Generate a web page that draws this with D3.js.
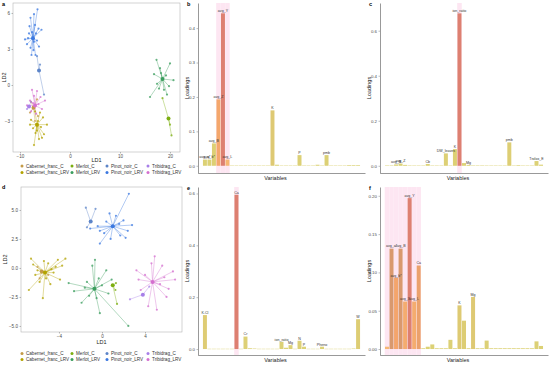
<!DOCTYPE html>
<html>
<head>
<meta charset="utf-8">
<script src="https://cdn.jsdelivr.net/npm/d3@7"></script>
<style>
  body { margin: 0; background: #fff; }
  svg { font-family: "Liberation Sans", Arial, sans-serif; display: block; }
</style>
</head>
<body>
<svg id="fig" width="550" height="365"></svg>
<script>
(function () {
    "use strict";

    // ---- data ----
    var groups = ["Cabernet_franc_C", "Cabernet_franc_LRV", "Merlot_C", "Merlot_LRV",
        "Pinot_noir_C", "Pinot_noir_LRV", "Tribidrag_C", "Tribidrag_LRV"];
    var groupColors = ["#c49a46", "#b3a300", "#7cae10", "#3a9d5d",
        "#5c84c8", "#3b78e0", "#a77fe8", "#d46fcf"];

    // panel a: [group, LD1, LD2]
    var aCentroids = [
        [0, -7.3, -1.9], [1, -6.6, -3.3], [2, 19.7, -2.8], [3, 18.5, 0.5],
        [4, -6.2, 1.2], [5, -7.4, 3.9], [6, -8.2, -1.8], [7, -7.0, -1.7]
    ];
    var aPoints = [
        [0, -7.8, -1.4], [0, -6.6, -1.2], [0, -6.4, -2.6], [0, -7.0, -3.0], [0, -8.0, -2.3],
        [1, -7.0, -2.2], [1, -6.0, -2.3], [1, -5.4, -2.7], [1, -7.8, -2.9], [1, -6.4, -3.0],
        [1, -4.6, -3.3], [1, -7.4, -3.6], [1, -5.8, -3.5], [1, -8.0, -3.3], [1, -6.9, -4.0],
        [1, -5.2, -4.1], [1, -6.2, -4.5], [1, -7.2, -5.0], [1, -6.6, -3.8], [1, -5.6, -4.4],
        [2, 18.5, -1.1], [2, 20.0, -3.3], [2, 20.3, -4.2],
        [3, 17.3, 2.1], [3, 20.0, 1.8], [3, 18.0, 1.4], [3, 20.7, 0.4], [3, 16.8, 0.9],
        [3, 19.2, 0.8], [3, 17.4, 0.1], [3, 19.8, -0.1], [3, 16.0, -1.0], [3, 18.8, -0.4],
        [3, 17.8, -0.3], [3, 19.4, -0.8], [3, 18.2, 1.0],
        [4, -6.6, 2.4], [4, -5.2, -0.8], [4, -6.0, 1.7],
        [5, -6.5, 6.3], [5, -7.2, 5.9], [5, -7.9, 5.6], [5, -8.1, 4.9], [5, -7.0, 5.0],
        [5, -6.3, 4.7], [5, -5.7, 4.6], [5, -6.8, 4.3], [5, -7.6, 4.4], [5, -8.4, 3.9],
        [5, -9.0, 3.8], [5, -8.6, 3.4], [5, -7.2, 3.6], [5, -6.6, 3.7], [5, -7.9, 3.1],
        [5, -7.3, 2.9], [5, -6.9, 2.5], [5, -7.7, 2.5], [5, -6.2, 3.2], [5, -8.2, 4.3],
        [6, -8.6, -2.0], [6, -7.8, -1.4],
        [7, -7.6, -0.4], [7, -6.6, -0.5], [7, -7.2, -0.9], [7, -5.9, -1.0], [7, -5.0, -1.3],
        [7, -8.0, -1.3], [7, -8.6, -1.7], [7, -6.3, -1.6], [7, -5.6, -2.0], [7, -7.8, -2.2],
        [7, -6.8, -2.4], [7, -7.4, -1.5]
    ];
    var aTicksX = [-10, 0, 10, 20];
    var aTicksY = [-3, 0, 3, 6];

    // panel d: [group, LD1, LD2]
    var dCentroids = [
        [0, -5.6, -0.3], [1, -5.3, -0.4], [2, 1.0, -1.5], [3, -0.7, -1.8],
        [4, -1.05, 4.0], [5, 1.0, 3.6], [6, 3.8, -2.3], [7, 4.7, -1.2]
    ];
    var dPoints = [
        [0, -6.0, 0.1], [0, -5.0, -0.6], [0, -5.8, -0.9],
        [1, -6.6, 0.8], [1, -6.4, 0.3], [1, -6.0, -0.2], [1, -6.8, -1.9], [1, -5.5, -2.6],
        [1, -4.1, 0.7], [1, -3.4, 0.8], [1, -3.9, -1.0], [1, -4.5, -0.4], [1, -5.0, 0.4],
        [1, -4.8, -1.4], [1, -5.8, -1.2], [1, -6.2, -0.6], [1, -4.3, 0.1], [1, -5.4, 0.6],
        [1, -3.7, 0.2], [1, -5.2, -0.9], [1, -4.7, -0.1],
        [2, 1.3, -1.3], [2, 1.25, -1.9], [2, 1.4, -3.1],
        [3, -3.1, -1.3], [3, -2.6, -2.0], [3, -1.9, -3.0], [3, -0.65, 0.7], [3, -0.9, 0.2],
        [3, 0.4, -0.2], [3, -0.2, -3.9], [3, 2.45, -5.0], [3, -1.4, -1.2], [3, 0.0, -1.5],
        [3, -0.5, -2.6], [3, 0.6, -2.2], [3, -1.2, -2.4], [3, -0.3, -0.9], [3, -1.6, -1.7],
        [3, 0.9, -1.0],
        [4, -1.5, 5.2], [4, -0.6, 5.1], [4, -1.4, 3.5],
        [5, 2.5, 6.4], [5, 0.7, 4.7], [5, 1.3, 4.5], [5, 2.0, 4.1], [5, 2.8, 3.7],
        [5, 2.4, 3.2], [5, 1.7, 2.8], [5, 0.8, 2.5], [5, -0.2, 2.1], [5, 0.2, 3.0],
        [5, -0.4, 3.6], [5, -1.1, 3.4], [5, 0.4, 4.0], [5, 1.6, 3.8], [5, -0.2, 3.2],
        [5, 2.2, 2.6],
        [6, 2.6, -2.7], [6, 4.4, -1.6],
        [7, 3.2, -0.2], [7, 4.9, 1.0], [7, 4.6, 0.4], [7, 5.6, 0.2], [7, 6.6, -0.3],
        [7, 6.8, -1.0], [7, 6.2, -1.8], [7, 6.0, -2.5], [7, 5.1, -3.6], [7, 4.3, -3.3],
        [7, 3.6, -1.9], [7, 3.4, -1.0], [7, 5.4, -1.4], [7, 4.0, -0.6], [7, 5.8, -0.8]
    ];
    var dTicksX = [-4, 0, 4];
    var dTicksY = [-5, -2.5, 0, 2.5, 5];

    // panels b, c: loadings of the first dataset
    var varsBC = ["avg_a*", "avg_b*", "avg_B", "avg_Z", "avg_Y", "avg_L", "avg_C", "Al", "B", "Cb",
        "Ca", "Cu", "Chl", "DW_leaves", "Fe", "K", "ion_ratio", "Mn", "Mg", "Na",
        "N", "P", "S", "Zn", "pH", "Phenol", "Flav", "pmb", "SLA", "LMA",
        "FW", "TA", "TSS", "Trolox_E", "W"];
    var loadB = [0.018, 0.018, 0.065, 0.193, 0.443, 0.018, 0.001, 0.001, 0.001, 0.001,
        0.001, 0.001, 0.001, 0.001, 0.001, 0.161, 0.003, 0.001, 0.001, 0.001,
        0.001, 0.031, 0.001, 0.001, 0.001, 0.003, 0.001, 0.031, 0.001, 0.001,
        0.001, 0.001, 0.002, 0.002, 0.002];
    var loadC = [0.002, 0.002, 0.006, 0.010, 0.004, 0.002, 0.001, 0.001, 0.001, 0.008,
        0.001, 0.001, 0.001, 0.055, 0.001, 0.074, 0.677, 0.012, 0.004, 0.002,
        0.002, 0.002, 0.001, 0.001, 0.001, 0.001, 0.001, 0.104, 0.001, 0.003,
        0.001, 0.001, 0.001, 0.021, 0.005];
    var labelsB = [0, 1, 2, 3, 4, 5, 15, 21, 27];
    var labelsC = [2, 3, 9, 13, 15, 16, 18, 27, 33];
    var highlightB = [3, 4, 5];
    var highlightC = [16];
    var ticksB = [0, 0.1, 0.2, 0.3, 0.4];
    var ticksC = [0, 0.2, 0.4, 0.6];

    // panels e, f: loadings of the second dataset
    var varsEF = ["K.Cl", "avg_a*", "avg_b*", "avg_B", "avg_X", "avg_Y", "avg_L", "Ca", "Cb", "Cr",
        "Cu", "Chl", "DW", "Fe", "FW", "Flav", "K", "ion_ratio", "LMA", "Mg",
        "Mn", "N", "P", "Na", "S", "pH", "Pheno", "pmb", "SLA", "TA",
        "TSS", "Zn", "B", "Trolox_E", "W"];
    var loadE = [0.131, 0.001, 0.001, 0.001, 0.001, 0.001, 0.001, 0.595, 0.001, 0.048,
        0.003, 0.002, 0.001, 0.001, 0.001, 0.001, 0.001, 0.028, 0.005, 0.015,
        0.001, 0.032, 0.009, 0.001, 0.001, 0.001, 0.009, 0.001, 0.001, 0.001,
        0.001, 0.001, 0.001, 0.002, 0.115];
    var loadF = [0.003, 0.131, 0.093, 0.131, 0.062, 0.197, 0.062, 0.109, 0.001, 0.003,
        0.006, 0.001, 0.001, 0.001, 0.012, 0.001, 0.057, 0.037, 0.001, 0.068,
        0.001, 0.001, 0.011, 0.001, 0.001, 0.001, 0.001, 0.001, 0.001, 0.001,
        0.001, 0.001, 0.001, 0.010, 0.004];
    var labelsE = [0, 7, 9, 17, 19, 21, 22, 26, 34];
    var labelsF = [1, 2, 3, 4, 5, 6, 7, 16, 19];
    var highlightE = [7];
    var highlightF = [0, 1, 2, 3, 4, 5, 6, 7];
    var ticksE = [0, 0.2, 0.4, 0.6];
    var ticksF = [0, 0.05, 0.1, 0.15, 0.2];

    var svg = d3.select('#fig');
    var tickColor = '#4d4d4d';

    function styleAxis(g, size) {
        g.attr('font-size', size).attr('font-family', null).style('color', '#333');
        g.selectAll('.tick text').attr('fill', tickColor);
        g.selectAll('.tick line').attr('stroke', '#555').attr('stroke-width', 0.4);
        g.select('.domain').attr('stroke-width', 0.5);
    }

    function drawScatter(opt) {
        var g = svg.append('g');
        var x = d3.scaleLinear().domain(opt.xDomain).range([opt.left, opt.right]);
        var y = d3.scaleLinear().domain(opt.yDomain).range([opt.bottom, opt.top]);

        g.append('rect')
            .attr('x', opt.left).attr('y', opt.top)
            .attr('width', opt.right - opt.left).attr('height', opt.bottom - opt.top)
            .attr('fill', 'none').attr('stroke', '#b5b5b5').attr('stroke-width', 0.6);

        g.append('g')
            .attr('transform', 'translate(0,' + opt.bottom + ')')
            .call(d3.axisBottom(x).tickValues(opt.xTicks).tickSize(1.5).tickPadding(1.5).tickSizeOuter(0))
            .call(function (a) { styleAxis(a, 4.6); a.select('.domain').remove(); });

        g.append('g')
            .attr('transform', 'translate(' + opt.left + ',0)')
            .call(d3.axisLeft(y).tickValues(opt.yTicks).tickFormat(opt.yFormat).tickSize(1.5).tickPadding(1.5).tickSizeOuter(0))
            .call(function (a) { styleAxis(a, 4.6); a.select('.domain').remove(); });

        var cent = {};
        opt.centroids.forEach(function (c) { cent[c[0]] = c; });

        g.append('g').selectAll('line')
            .data(opt.points)
            .enter().append('line')
            .attr('x1', function (d) { return x(cent[d[0]][1]); })
            .attr('y1', function (d) { return y(cent[d[0]][2]); })
            .attr('x2', function (d) { return x(d[1]); })
            .attr('y2', function (d) { return y(d[2]); })
            .attr('stroke', function (d) { return groupColors[d[0]]; })
            .attr('stroke-opacity', 0.65)
            .attr('stroke-width', 0.6);

        g.append('g').selectAll('circle')
            .data(opt.points)
            .enter().append('circle')
            .attr('cx', function (d) { return x(d[1]); })
            .attr('cy', function (d) { return y(d[2]); })
            .attr('r', 1.1)
            .attr('fill', function (d) { return groupColors[d[0]]; })
            .attr('fill-opacity', 0.75);

        g.append('g').selectAll('circle')
            .data(opt.centroids)
            .enter().append('circle')
            .attr('cx', function (d) { return x(d[1]); })
            .attr('cy', function (d) { return y(d[2]); })
            .attr('r', 2)
            .attr('fill', function (d) { return groupColors[d[0]]; });

        g.append('text')
            .attr('x', (opt.left + opt.right) / 2).attr('y', opt.xTitleY)
            .attr('text-anchor', 'middle').attr('font-size', 5.5).attr('fill', '#222')
            .text('LD1');
        g.append('text')
            .attr('transform', 'translate(' + opt.yTitleX + ',' + ((opt.top + opt.bottom) / 2) + ') rotate(-90)')
            .attr('text-anchor', 'middle').attr('font-size', 5.5).attr('fill', '#222')
            .text('LD2');

        var cols = [22, 72, 107, 148];
        var legend = g.append('g').selectAll('g')
            .data(groups)
            .enter().append('g')
            .attr('transform', function (d, i) {
                return 'translate(' + cols[Math.floor(i / 2)] + ',' + opt.legendRows[i % 2] + ')';
            });
        legend.append('circle')
            .attr('r', 1.5)
            .attr('fill', function (d, i) { return groupColors[i]; });
        legend.append('text')
            .attr('x', 4).attr('dy', '0.35em')
            .attr('font-size', 4.6).attr('fill', '#333')
            .text(function (d) { return d; });

        svg.append('text')
            .attr('x', opt.letterX).attr('y', opt.letterY)
            .attr('font-size', 5.5).attr('font-weight', 'bold')
            .text(opt.letter);
    }

    function drawBars(opt) {
        var g = svg.append('g');
        var x = d3.scaleBand().domain(opt.vars).range([opt.left, opt.right])
            .paddingInner(0.12).paddingOuter(1.1);
        var y = d3.scaleLinear().domain(opt.yDomain).range([opt.bottom, opt.top]);
        var max = d3.max(opt.values);
        var step = x.step();

        var hlColor = d3.scaleLinear().domain([0, 0.5, 0.75, 1])
            .range(["#f5b262", "#f29b58", "#c4875c", "#d8725e"]);
        var loColor = d3.interpolateRgb("#d7cc62", "#deae5c");

        g.append('g').selectAll('rect')
            .data(opt.highlight)
            .enter().append('rect')
            .attr('x', function (i) { return x(opt.vars[i]) - (step - x.bandwidth()) / 2; })
            .attr('y', opt.top)
            .attr('width', step)
            .attr('height', opt.bottom - opt.top)
            .attr('fill', '#fde6f2');

        g.append('g').selectAll('rect')
            .data(opt.values)
            .enter().append('rect')
            .attr('x', function (d, i) { return x(opt.vars[i]); })
            .attr('y', function (d) { return y(d); })
            .attr('width', x.bandwidth())
            .attr('height', function (d) { return Math.max(0.4, y(0) - y(d)); })
            .attr('fill', function (d, i) {
                var t = d / max;
                return opt.highlight.indexOf(i) >= 0 ? hlColor(t) : loColor(t);
            })
            .attr('fill-opacity', 0.88);

        g.append('g').selectAll('text')
            .data(opt.labels)
            .enter().append('text')
            .attr('x', function (i) { return x(opt.vars[i]) + x.bandwidth() / 2; })
            .attr('y', function (i) { return y(opt.values[i]) - 1.2; })
            .attr('text-anchor', 'middle')
            .attr('font-size', 3.6)
            .attr('fill', '#333')
            .text(function (i) { return opt.vars[i]; });

        g.append('g')
            .attr('transform', 'translate(0,' + opt.bottom + ')')
            .call(d3.axisBottom(x).tickValues([]).tickSizeOuter(0))
            .call(function (a) { styleAxis(a, 4.6); });

        g.append('g')
            .attr('transform', 'translate(' + opt.left + ',0)')
            .call(d3.axisLeft(y).tickValues(opt.ticks).tickFormat(d3.format(opt.format))
                .tickSize(1.5).tickPadding(1.5).tickSizeOuter(0))
            .call(function (a) { styleAxis(a, 4.4); });

        g.append('text')
            .attr('x', (opt.left + opt.right) / 2 - 6).attr('y', opt.bottom + 7)
            .attr('text-anchor', 'middle').attr('font-size', 5.5).attr('fill', '#222')
            .text('Variables');
        g.append('text')
            .attr('transform', 'translate(' + (opt.left - 9) + ',' + ((opt.top + opt.bottom) / 2) + ') rotate(-90)')
            .attr('text-anchor', 'middle').attr('font-size', 5.5).attr('fill', '#222')
            .text('Loadings');

        svg.append('text')
            .attr('x', opt.left - 11).attr('y', opt.top + 3)
            .attr('font-size', 5.5).attr('font-weight', 'bold')
            .text(opt.letter);
    }

    drawScatter({
        letter: 'a', letterX: 2, letterY: 6,
        left: 13, right: 180, top: 3, bottom: 152,
        xDomain: [-11.4, 22], yDomain: [-5.58, 6.83],
        xTicks: aTicksX, yTicks: aTicksY, yFormat: d3.format('d'),
        centroids: aCentroids, points: aPoints,
        xTitleY: 162, yTitleX: 6, legendRows: [166, 172.5]
    });

    drawScatter({
        letter: 'd', letterX: 2, letterY: 189,
        left: 21, right: 182, top: 187, bottom: 332,
        xDomain: [-7.53, 7.44], yDomain: [-5.52, 6.98],
        xTicks: dTicksX, yTicks: dTicksY, yFormat: d3.format('.1f'),
        centroids: dCentroids, points: dPoints,
        xTitleY: 343.5, yTitleX: 7, legendRows: [353.5, 359.5]
    });

    drawBars({
        letter: 'b', left: 198, right: 365, top: 3, bottom: 173,
        vars: varsBC, values: loadB, labels: labelsB, highlight: highlightB,
        yDomain: [-0.021, 0.473], ticks: ticksB, format: '.1f'
    });
    drawBars({
        letter: 'c', left: 380, right: 548, top: 3, bottom: 173,
        vars: varsBC, values: loadC, labels: labelsC, highlight: highlightC,
        yDomain: [-0.032, 0.723], ticks: ticksC, format: '.1f'
    });
    drawBars({
        letter: 'e', left: 198, right: 365, top: 187, bottom: 355,
        vars: varsEF, values: loadE, labels: labelsE, highlight: highlightE,
        yDomain: [-0.023, 0.625], ticks: ticksE, format: '.1f'
    });
    drawBars({
        letter: 'f', left: 380, right: 548, top: 187, bottom: 355,
        vars: varsEF, values: loadF, labels: labelsF, highlight: highlightF,
        yDomain: [-0.0078, 0.2115], ticks: ticksF, format: '.2f'
    });
})();
</script>
</body>
</html>
